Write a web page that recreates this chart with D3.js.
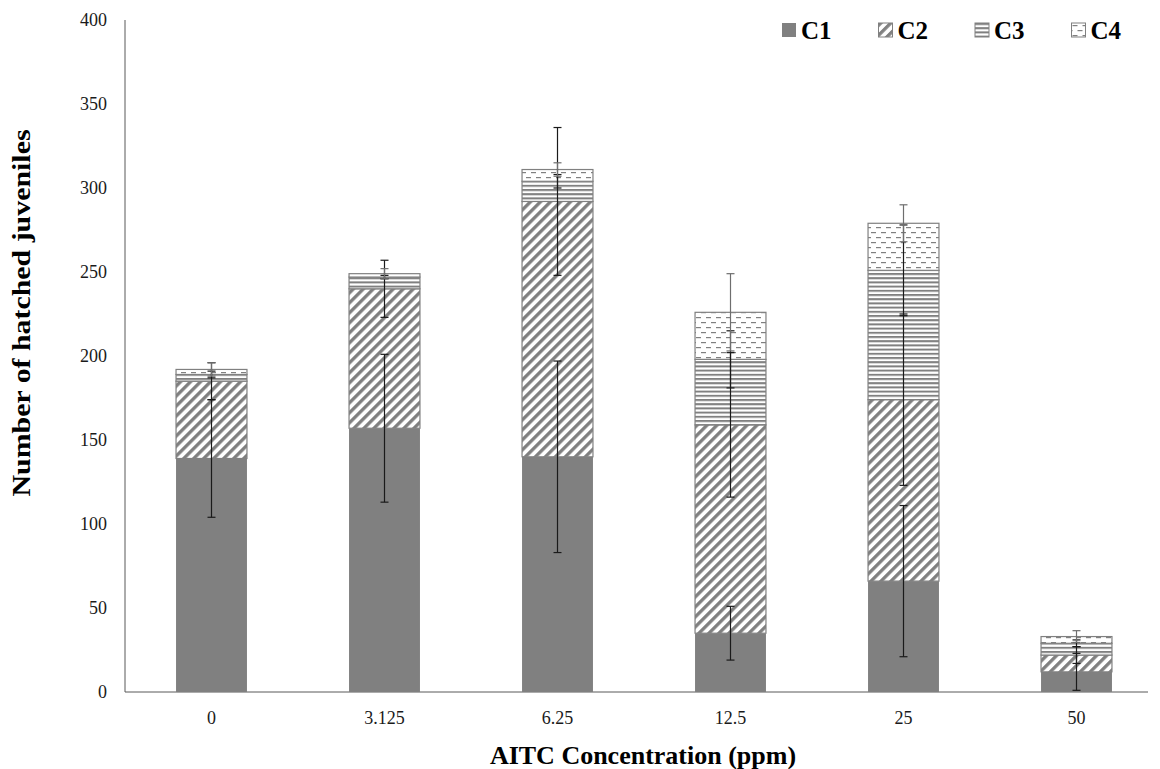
<!DOCTYPE html>
<html lang="en">
<head>
    <meta charset="UTF-8">
    <title>Hatched juveniles by AITC concentration</title>
    <script src="https://d3js.org/d3.v7.min.js"></script>
    <style>
        body { margin: 0; background: #fff; }
        text { font-family: "Liberation Serif", "Times New Roman", serif; }
    </style>
</head>
<body>

<script>
// values
const categories = ["0", "3.125", "6.25", "12.5", "25", "50"];
const seriesNames = ["C1", "C2", "C3", "C4"];
const c1 = [139, 157, 140, 35, 66, 12];
const c2 = [46, 83, 152, 124, 108, 10];
const c3 = [4, 7, 12, 39, 77, 7];
const c4 = [3, 2, 7, 28, 28, 4];
// error bar half-widths, per series
const e1 = [35, 44, 57, 16, 45, 11];
const e2 = [11, 17, 44, 43, 51, 5];
const e3 = [2, 1, 4, 17, 27, 2];
const e4 = [4, 3, 4, 23, 11, 3.5];
const yTicks = [0, 50, 100, 150, 200, 250, 300, 350, 400];

const width = 1160;
const height = 769;
const grey = "#808080";

const svg = d3.select("body").append("svg")
    .attr("width", width)
    .attr("height", height);

const x = d3.scaleBand()
    .domain(categories)
    .range([125, 1163])
    .paddingInner(0.59)
    .paddingOuter(0.295);

const y = d3.scaleLinear()
    .domain([0, 400])
    .range([692, 20]);

// fill patterns
const defs = svg.append("defs");

const diag = defs.append("pattern")
    .attr("id", "p-c2")
    .attr("patternUnits", "userSpaceOnUse")
    .attr("width", 7.07).attr("height", 7.07)
    .attr("patternTransform", "rotate(45)");
diag.append("rect").attr("width", 7.07).attr("height", 7.07).attr("fill", "#fff");
diag.append("rect").attr("width", 3.3).attr("height", 7.07).attr("fill", grey);

const horiz = defs.append("pattern")
    .attr("id", "p-c3")
    .attr("patternUnits", "userSpaceOnUse")
    .attr("width", 8).attr("height", 4.2);
horiz.append("rect").attr("width", 8).attr("height", 4.2).attr("fill", "#fff");
horiz.append("rect").attr("y", 0).attr("width", 8).attr("height", 2).attr("fill", grey);

const dash = defs.append("pattern")
    .attr("id", "p-c4")
    .attr("patternUnits", "userSpaceOnUse")
    .attr("width", 10).attr("height", 10);
dash.append("rect").attr("width", 10).attr("height", 10).attr("fill", "#fff");
dash.append("rect").attr("x", 1).attr("y", 2).attr("width", 5).attr("height", 1.2).attr("fill", grey);
dash.append("rect").attr("x", 6).attr("y", 7).attr("width", 5).attr("height", 1.2).attr("fill", grey);
dash.append("rect").attr("x", -4).attr("y", 7).attr("width", 5).attr("height", 1.2).attr("fill", grey);

const fills = [grey, "url(#p-c2)", "url(#p-c3)", "url(#p-c4)"];

// stack the four series
const rows = categories.map((c, i) => ({
    cat: c, C1: c1[i], C2: c2[i], C3: c3[i], C4: c4[i]
}));
const errs = [e1, e2, e3, e4];
const stacked = d3.stack().keys(seriesNames)(rows);

// axes
svg.append("line")
    .attr("x1", 125).attr("x2", 125)
    .attr("y1", y(400)).attr("y2", y(0))
    .attr("stroke", "#595959").attr("stroke-width", 1);

svg.append("line")
    .attr("x1", 125).attr("x2", 1148)
    .attr("y1", y(0)).attr("y2", y(0))
    .attr("stroke", "#595959").attr("stroke-width", 1);

svg.append("g")
    .selectAll("text")
    .data(yTicks)
    .join("text")
    .attr("x", 107)
    .attr("y", d => y(d))
    .attr("dy", "0.35em")
    .attr("text-anchor", "end")
    .attr("font-size", 18)
    .attr("fill", "#1a1a1a")
    .text(d => d);

svg.append("g")
    .selectAll("text")
    .data(categories)
    .join("text")
    .attr("x", d => x(d) + x.bandwidth() / 2)
    .attr("y", 718)
    .attr("dy", "0.35em")
    .attr("text-anchor", "middle")
    .attr("font-size", 18)
    .attr("fill", "#1a1a1a")
    .text(d => d);

// bars
svg.append("g")
    .selectAll("g")
    .data(stacked)
    .join("g")
    .attr("fill", (d, i) => fills[i])
    .attr("stroke", (d, i) => i === 0 ? "none" : grey)
    .attr("stroke-width", 1.2)
    .selectAll("rect")
    .data(d => d)
    .join("rect")
    .attr("x", d => x(d.data.cat))
    .attr("y", d => y(d[1]))
    .attr("width", x.bandwidth())
    .attr("height", d => y(d[0]) - y(d[1]));

// error bars at each series' cumulative top
const capW = 4;
stacked.forEach((s, si) => {
    const g = svg.append("g")
        .attr("stroke", si === 3 ? "#6e6e6e" : "#1a1a1a")
        .attr("stroke-width", 1.2);
    s.forEach((d, i) => {
        const cx = x(d.data.cat) + x.bandwidth() / 2;
        const lo = y(d[1] - errs[si][i]);
        const hi = y(d[1] + errs[si][i]);
        g.append("line").attr("x1", cx).attr("x2", cx).attr("y1", lo).attr("y2", hi);
        g.append("line").attr("x1", cx - capW).attr("x2", cx + capW).attr("y1", lo).attr("y2", lo);
        g.append("line").attr("x1", cx - capW).attr("x2", cx + capW).attr("y1", hi).attr("y2", hi);
    });
});

// axis titles
svg.append("text")
    .attr("x", 643)
    .attr("y", 755)
    .attr("dy", "0.35em")
    .attr("text-anchor", "middle")
    .attr("font-size", 26)
    .attr("font-weight", "bold")
    .text("AITC Concentration (ppm)");

svg.append("text")
    .attr("transform", "translate(30, 313) rotate(-90)")
    .attr("text-anchor", "middle")
    .attr("font-size", 25)
    .attr("font-weight", "bold")
    .attr("textLength", 367)
    .attr("lengthAdjust", "spacingAndGlyphs")
    .text("Number of hatched juveniles");

// legend
const legend = svg.append("g")
    .selectAll("g")
    .data(seriesNames)
    .join("g")
    .attr("transform", (d, i) => `translate(${782 + i * 96.5}, 23)`);

legend.append("rect")
    .attr("width", 14).attr("height", 14)
    .attr("fill", (d, i) => fills[i])
    .attr("stroke", (d, i) => i === 0 ? "none" : grey);

legend.append("text")
    .attr("x", 19)
    .attr("y", 7)
    .attr("dy", "0.35em")
    .attr("font-size", 25)
    .attr("font-weight", "bold")
    .text(d => d);
</script>

</body>
</html>
